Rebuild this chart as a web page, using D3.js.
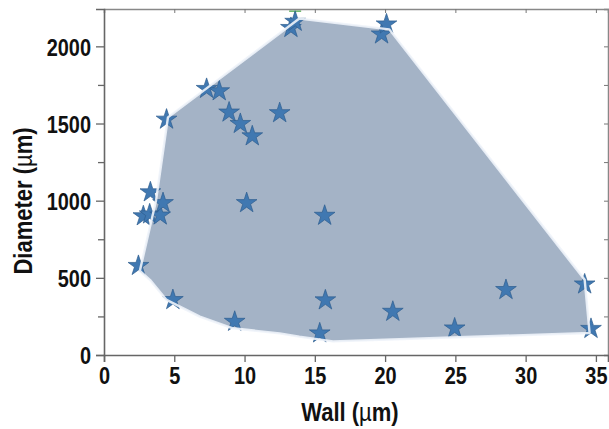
<!DOCTYPE html>
<html>
<head>
<meta charset="utf-8">
<script src="https://cdn.jsdelivr.net/npm/d3@7"></script>
<style>
  html, body { margin: 0; padding: 0; background: #fff; }
  svg { display: block; }
  .lbl { font-family: "Liberation Sans", Arial, Helvetica, sans-serif; font-weight: bold; fill: #111; }
</style>
</head>
<body>
<svg id="chart" width="609" height="429"></svg>
<script>
// Vessel measurements: wall thickness (µm) and diameter (µm)
const wall     = [2.45, 2.8, 3.25, 3.3, 4.0, 4.2, 4.45, 4.9, 7.3, 8.2, 8.9, 9.3, 9.7, 10.15, 10.55, 12.5, 13.3, 13.6, 15.35, 15.75, 15.7, 19.75, 20.1, 20.55, 24.95, 28.6, 34.2, 34.65];
const diameter = [578, 900, 912, 1055, 905, 985, 1526, 357, 1725, 1710, 1572, 216, 1498, 985, 1418, 1568, 2120, 2160, 141, 355, 903, 2078, 2143, 281, 173, 422, 458, 170];

// Outline of the occupied range (wall, diameter vertices)
const rangeWall     = [4.55, 13.9, 20.3, 34.2, 34.55, 16.3, 13.9, 12.5, 9.17, 6.82, 4.45, 3.27, 2.55, 3.7];
const rangeDiameter = [1540, 2180, 2110, 487, 143, 88, 119, 140, 173, 249, 357, 487, 545, 1000];

// Error cap above the top point
const capWall = [13.6];
const capDiameter = [2228];

// Axis ticks
const xTicks = [0, 5, 10, 15, 20, 25, 30, 35];
const yTicks = [0, 500, 1000, 1500, 2000];
const yMinorTicks = [250, 750, 1250, 1750];

const svg = d3.select("#chart");
const plotLeft = 104, plotRight = 608, plotTop = 9, plotBottom = 355;
const squeeze = 0.83;   // condensed look for the bold labels

const x = d3.scaleLinear().domain([0, 35.86]).range([plotLeft, plotRight]);
const y = d3.scaleLinear().domain([0, 2242]).range([plotBottom, plotTop]);

const pts = wall.map((w, i) => [w, diameter[i]]);
const outline = rangeWall.map((w, i) => [x(w), y(rangeDiameter[i])]);
const outlinePath = d3.line().curve(d3.curveLinearClosed)(outline);

// Range fill
svg.append("path").attr("d", outlinePath).attr("fill", "#a4b3c6").attr("stroke", "none");

// Error cap
capWall.forEach((w, i) => {
  const g = svg.append("g").attr("stroke", "#6cb86c").attr("stroke-width", 1.6);
  g.append("line").attr("x1", x(w) - 6).attr("x2", x(w) + 6).attr("y1", y(capDiameter[i])).attr("y2", y(capDiameter[i]));
  g.append("line").attr("x1", x(w)).attr("x2", x(w)).attr("y1", y(capDiameter[i])).attr("y2", y(diameter[17]));
});

// Star markers
const star = d3.symbol().type(d3.symbolStar).size(133);
svg.append("g").selectAll("path").data(pts).join("path")
  .attr("d", star)
  .attr("transform", d => `translate(${x(d[0])},${y(d[1])})`)
  .attr("fill", "#4078b1")
  .attr("stroke", "#2e5d8e")
  .attr("stroke-width", 0.7);

// Light rim of the range outline
svg.append("path").attr("d", outlinePath).attr("fill", "none")
  .attr("stroke", "#eef3f9").attr("stroke-opacity", 0.9).attr("stroke-width", 2.4)
  .attr("stroke-linejoin", "round");

// Frame: top and right axes with inward ticks
const topAxis = svg.append("g").attr("transform", `translate(0,${plotTop})`)
  .call(d3.axisTop(x).tickValues(xTicks).tickSize(-4).tickFormat(""));
const rightAxis = svg.append("g").attr("transform", `translate(${plotRight},0)`)
  .call(d3.axisRight(y).tickValues(yTicks.concat(yMinorTicks)).tickSize(-4).tickFormat(""));
[topAxis, rightAxis].forEach(g => {
  g.select(".domain").attr("stroke", "#888").attr("stroke-width", 1.5);
  g.selectAll(".tick line").attr("stroke", "#777").attr("stroke-width", 1);
});

// Bottom axis
const xAxis = svg.append("g").attr("transform", `translate(0,${plotBottom})`)
  .call(d3.axisBottom(x).tickValues(xTicks).tickSize(7).tickPadding(5).tickFormat(d3.format("d")));
xAxis.selectAll("text").attr("class", "lbl").style("font-size", "24px").attr("fill", "#111")
  .attr("transform", `scale(${squeeze},1)`);

// Left axis with minor ticks
const yAxis = svg.append("g").attr("transform", `translate(${plotLeft},0)`)
  .call(d3.axisLeft(y).tickValues(yTicks).tickSize(8).tickPadding(5).tickFormat(d3.format("d")));
yAxis.selectAll("text").attr("class", "lbl").style("font-size", "24px").attr("fill", "#111")
  .attr("dy", "0.36em")
  .attr("x", -13 / squeeze)
  .attr("transform", `scale(${squeeze},1)`);
const yMinor = svg.append("g").attr("transform", `translate(${plotLeft},0)`)
  .call(d3.axisLeft(y).tickValues(yMinorTicks).tickSize(6).tickFormat(""));
yMinor.select(".domain").remove();

[xAxis, yAxis, yMinor].forEach(g => {
  g.select(".domain").attr("stroke", "#666").attr("stroke-width", 1.6);
  g.selectAll(".tick line").attr("stroke", "#666").attr("stroke-width", 1.3);
});

// Axis titles
const titleSqueeze = 0.88;
const xt = svg.append("text").attr("class", "lbl")
  .attr("transform", `translate(350,421) scale(${titleSqueeze},1)`)
  .attr("text-anchor", "middle").style("font-size", "25px");
xt.append("tspan").text("Wall (");
xt.append("tspan").attr("font-weight", "normal").text("µ");
xt.append("tspan").text("m)");

const yt = svg.append("text").attr("class", "lbl")
  .attr("transform", `translate(32,201) rotate(-90) scale(${titleSqueeze},1)`)
  .attr("text-anchor", "middle").style("font-size", "25px");
yt.append("tspan").text("Diameter (");
yt.append("tspan").attr("font-weight", "normal").text("µ");
yt.append("tspan").text("m)");
</script>
</body>
</html>
